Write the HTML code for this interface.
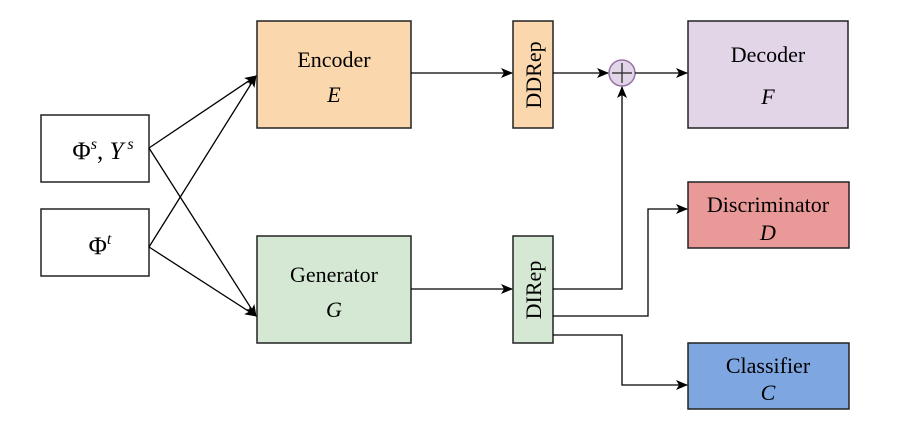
<!DOCTYPE html>
<html><head><style>body{margin:0;background:#fff} svg text{font-family:"Liberation Serif","Times New Roman",Times,"DejaVu Serif",serif}</style></head><body>
<svg width="897" height="439" xmlns="http://www.w3.org/2000/svg">
<defs><marker id="a" markerWidth="12" markerHeight="10" refX="11" refY="5" orient="auto" markerUnits="userSpaceOnUse"><path d="M0,0 L12,5 L0,10 L3,5Z" fill="#000"/></marker></defs>
<g stroke="#222" stroke-width="1.5">
<rect x="41" y="115" width="108" height="67" fill="#fff"/>
<rect x="41" y="209" width="108" height="67" fill="#fff"/>
<rect x="257" y="21" width="154" height="107" fill="#fad7ac"/>
<rect x="257" y="236" width="154" height="107" fill="#d5e8d4"/>
<rect x="513" y="21" width="40" height="107" fill="#fad7ac"/>
<rect x="513" y="236" width="40" height="107" fill="#d5e8d4"/>
<rect x="688" y="21" width="160" height="107" fill="#e1d5e7"/>
<rect x="688" y="182" width="161" height="66" fill="#ea9999"/>
<rect x="688" y="343" width="161" height="66" fill="#7ea6e0"/>
</g>
<circle cx="622" cy="73" r="13" fill="#e1d5e7" stroke="#9673a6" stroke-width="1.5"/>
<path d="M612,73H632M622,63V83" stroke="#222" stroke-width="1.2"/>
<g stroke="#000" stroke-width="1.3" fill="none" marker-end="url(#a)">
<path d="M149,148L256,76"/>
<path d="M149,148L256,316"/>
<path d="M149,247L256,76"/>
<path d="M149,247L256,316"/>
<path d="M411,73H512"/>
<path d="M553,73H608"/>
<path d="M635,73H687"/>
<path d="M411,289H512"/>
<path d="M553,289H622V87"/>
<path d="M553,316H648V209H687"/>
<path d="M553,335H622V385H687"/>
</g>
<g font-size="22" text-anchor="middle" font-family="Liberation Serif, Times New Roman, serif">
<text x="334" y="67">Encoder</text><text x="334" y="102" font-style="italic">E</text>
<text x="334" y="282">Generator</text><text x="334" y="317" font-style="italic">G</text>
<text x="768" y="62">Decoder</text><text x="768" y="104" font-style="italic">F</text>
<text x="768" y="212">Discriminator</text><text x="768" y="240" font-style="italic">D</text>
<text x="768" y="373">Classifier</text><text x="768" y="400" font-style="italic">C</text>
<text transform="translate(541,75) rotate(-90)">DDRep</text>
<text transform="translate(541,290) rotate(-90)">DIRep</text>
<text x="103" y="159" font-size="25">Φ<tspan font-size="16" dy="-10" font-style="italic">s</tspan><tspan dy="10">, </tspan><tspan font-style="italic">Y</tspan><tspan font-size="16" dy="-10" font-style="italic"> s</tspan></text>
<text x="100" y="254" font-size="25">Φ<tspan font-size="16" dy="-10" font-style="italic">t</tspan></text>
</g>
</svg>
</body></html>
